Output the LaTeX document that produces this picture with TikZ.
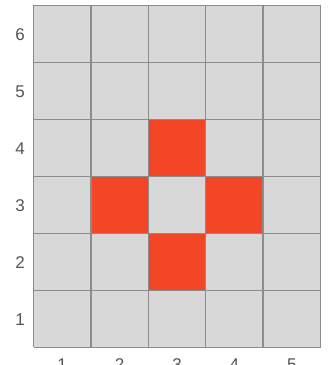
\documentclass[tikz,border=0pt]{standalone}
\usepackage{fontspec}
\setmainfont{Liberation Sans}
\definecolor{cellgrey}{HTML}{D8D8D8}
\definecolor{linegrey}{HTML}{8C8C8C}
\definecolor{hot}{HTML}{F44626}
\definecolor{labelgrey}{HTML}{555555}
\begin{document}
\begin{tikzpicture}[x=1pt,y=-1pt,
  gridline/.style={draw=linegrey,line width=1.4pt},
  axlabel/.style={text=labelgrey,font=\fontsize{17}{17}\selectfont,inner sep=0pt,anchor=center}]
\useasboundingbox (0,0) rectangle (328,365);
\fill[white] (0,0) rectangle (328,365);
% cells
\fill[cellgrey] (33.5,5.3) rectangle (320.5,347.3);
% red cells: col c (1..5), row r (1..6 from bottom)
\foreach \c/\r in {3/4,2/3,4/3,3/2}{
  \fill[hot] ({33.5+(\c-1)*57.4},{347.3-\r*57}) rectangle ({33.5+\c*57.4},{347.3-(\r-1)*57});
}
% grid lines
\foreach \i in {0,...,5}{
  \draw[gridline] ({33.5+\i*57.4},5.3) -- ({33.5+\i*57.4},347.3);
}
\foreach \j in {0,...,6}{
  \draw[gridline] (33.5,{5.3+\j*57}) -- (320.5,{5.3+\j*57});
}
% row labels
\foreach \r in {1,...,6}{
  \node[axlabel] (row\r) at (20,{347.3-(\r-0.5)*57+1}) {\r};
}
% column labels
\foreach \c in {1,...,5}{
  \node[axlabel] (col\c) at ({33.5+(\c-0.5)*57.4},364.5) {\c};
}
\end{tikzpicture}
\end{document}
